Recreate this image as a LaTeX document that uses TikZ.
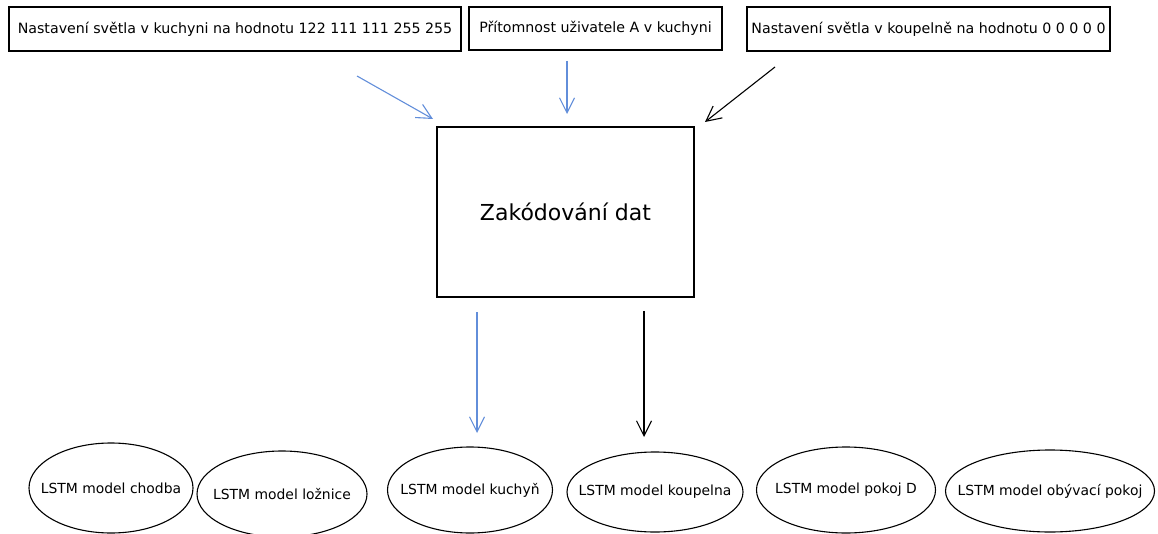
\documentclass[tikz,border=0pt]{standalone}
\usepackage{fontspec}
\setmainfont{DejaVu Sans}
\usetikzlibrary{shapes.geometric,arrows.meta}
\definecolor{flowblue}{RGB}{98,142,218}
\newcommand{\zerowide}[1]{\makebox[0pt]{#1}}
\tikzset{
  inbox/.style={draw=black, line width=1.1pt, inner sep=0pt, font=\fontsize{14.2}{16}\selectfont},
  encbox/.style={draw=black, line width=1.1pt, inner sep=0pt, font=\fontsize{22}{26}\selectfont},
  model/.style={draw=black, line width=1.1pt, ellipse, inner sep=0pt, font=\fontsize{13.9}{16}\selectfont},
  flow/.style={line width=1.1pt, -{Straight Barb[length=15pt,width=15pt,line width=1.1pt]}},
  blueflow/.style={flow, draw=flowblue},
  blackflow/.style={flow, draw=black}
}
\begin{document}
\begin{tikzpicture}[x=1pt,y=-1pt]
  \useasboundingbox (0,0) rectangle (1158,534);

  % input boxes
  \node[inbox, minimum width=452pt, minimum height=44pt] (setkitchen) at (235,29)
    {Nastavení světla v kuchyni na hodnotu 122 111 111 255 255};
  \node[inbox, minimum width=253pt, minimum height=43pt] (presence) at (595.5,28.5)
    {Přítomnost uživatele A v kuchyni};
  \node[inbox, minimum width=363pt, minimum height=44pt] (setbath) at (928.5,29)
    {Nastavení světla v koupelně na hodnotu 0 0 0 0 0};

  % encoder
  \node[encbox, minimum width=257pt, minimum height=170pt] (encode) at (565.5,212)
    {Zakódování dat};

  % room models (text set zero-wide so the ellipse keeps its own size)
  \node[model, minimum width=164pt, minimum height=90pt] (hall) at (111,488) {\zerowide{LSTM model chodba}};
  \node[model, minimum width=170pt, minimum height=86pt] (bedroom) at (282,494) {\zerowide{LSTM model ložnice}};
  \node[model, minimum width=165pt, minimum height=86pt] (kitchen) at (470,490) {\zerowide{LSTM model kuchyň}};
  \node[model, minimum width=176pt, minimum height=80pt] (bathroom) at (655,492) {\zerowide{LSTM model koupelna}};
  \node[model, minimum width=179pt, minimum height=86pt] (roomd) at (846,490) {\zerowide{LSTM model pokoj D}};
  \node[model, minimum width=209pt, minimum height=82pt] (living) at (1050,491) {\zerowide{LSTM model obývací pokoj}};

  % arrow end points
  \coordinate (k1) at (357,76);   \coordinate (k2) at (433,119);
  \coordinate (p1) at (567,61);   \coordinate (p2) at (567,114);
  \coordinate (b1) at (775,67);   \coordinate (b2) at (705,122);
  \coordinate (ok1) at (477,312); \coordinate (ok2) at (477,433);
  \coordinate (ob1) at (644,311); \coordinate (ob2) at (644,437);

  \draw[blueflow] (k1) -- (k2);
  \draw[blueflow] (p1) -- (p2);
  \draw[blackflow] (b1) -- (b2);
  \draw[blueflow] (ok1) -- (ok2);
  \draw[blackflow] (ob1) -- (ob2);
\end{tikzpicture}
\end{document}
